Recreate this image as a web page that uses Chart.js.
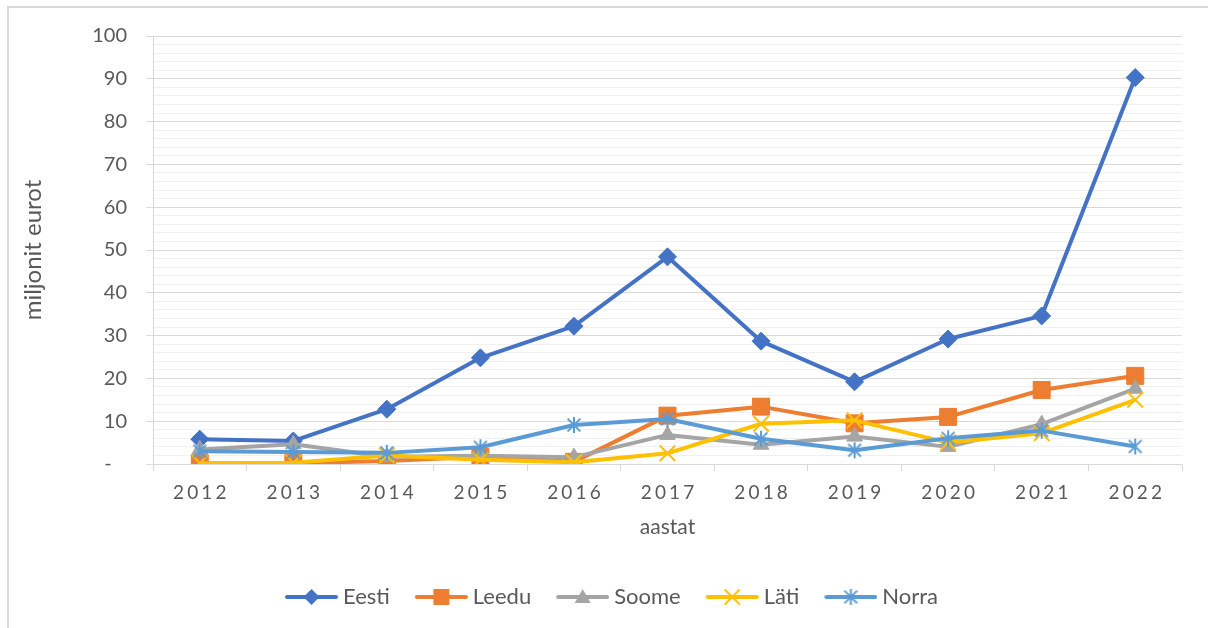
<!DOCTYPE html>
<html>
<head>
<meta charset="utf-8">
<script src="https://cdn.jsdelivr.net/npm/chart.js@4/dist/chart.umd.min.js"></script>
<style>
  body { margin: 0; background: #fff; }
  #wrap { position: relative; width: 1208px; height: 628px; }
  #frame {
    position: absolute; left: 7px; top: 6px; right: 0; bottom: 0;
    border-left: 2px solid #d9d9d9; border-top: 2px solid #d9d9d9;
    pointer-events: none;
  }
</style>
</head>
<body>
<div id="wrap">
  <canvas id="chart" width="1208" height="628"></canvas>
  <div id="frame"></div>
</div>
<script>
const years = ["2012", "2013", "2014", "2015", "2016", "2017", "2018", "2019", "2020", "2021", "2022"];
const eesti = [5.8, 5.4, 12.8, 24.8, 32.2, 48.4, 28.7, 19.2, 29.2, 34.6, 90.3];
const leedu = [0.2, 0.2, 0.7, 1.7, 0.5, 11.3, 13.4, 9.5, 11.0, 17.3, 20.6];
const soome = [3.4, 4.6, 1.7, 1.9, 1.6, 6.8, 4.5, 6.4, 4.0, 9.3, 17.6];
const lati = [0.2, 0.3, 2.0, 1.0, 0.4, 2.5, 9.4, 10.2, 5.0, 7.2, 15.0];
const norra = [3.0, 2.8, 2.6, 3.9, 9.1, 10.5, 5.9, 3.2, 6.0, 7.8, 4.1];

const TEXT = "#595959";
const GRID = "#d9d9d9";
const MINOR = "#f0f0f0";
const FONT = "Lato, 'Open Sans', sans-serif";

// excel-like asterisk marker (vertical bar + X)
function asterisk(color, size) {
  const c = document.createElement("canvas");
  c.width = size; c.height = size;
  const g = c.getContext("2d");
  const m = size / 2, r = size / 2 - 1;
  g.strokeStyle = color;
  g.lineWidth = 2;
  g.beginPath();
  g.moveTo(m, m - r); g.lineTo(m, m + r);
  g.moveTo(m - r * 0.8, m - r * 0.8); g.lineTo(m + r * 0.8, m + r * 0.8);
  g.moveTo(m + r * 0.8, m - r * 0.8); g.lineTo(m - r * 0.8, m + r * 0.8);
  g.stroke();
  return c;
}

const norraStar = asterisk("#5B9BD5", 18);

const series = [
  { label: "Eesti", data: eesti, color: "#4472C4", style: "rectRot", r: 9 },
  { label: "Leedu", data: leedu, color: "#ED7D31", style: "rect", r: 12 },
  { label: "Soome", data: soome, color: "#A5A5A5", style: "triangle", r: 9 },
  { label: "Läti", data: lati, color: "#FFC000", style: "crossRot", r: 11 },
  { label: "Norra", data: norra, color: "#5B9BD5", style: norraStar, r: 9 }
];

// legend sample: line with marker in the middle
const LEG_W = 74, LEG_H = 22, LINE_FROM = 21;
function legendSample(s) {
  const c = document.createElement("canvas");
  c.width = LEG_W; c.height = LEG_H;
  const g = c.getContext("2d");
  const y = LEG_H / 2;
  g.strokeStyle = s.color;
  g.fillStyle = s.color;
  g.lineWidth = 4;
  g.lineCap = "round";
  g.beginPath();
  g.moveTo(LINE_FROM + 2, y); g.lineTo(LEG_W - 2, y);
  g.stroke();
  const cx = (LINE_FROM + LEG_W) / 2;
  g.lineWidth = 2;
  if (s.style === "rectRot") {
    g.beginPath();
    g.moveTo(cx, y - 8); g.lineTo(cx + 8, y); g.lineTo(cx, y + 8); g.lineTo(cx - 8, y);
    g.closePath(); g.fill();
  } else if (s.style === "rect") {
    g.fillRect(cx - 8, y - 8, 16, 16);
  } else if (s.style === "triangle") {
    g.beginPath();
    g.moveTo(cx, y - 8); g.lineTo(cx + 8, y + 6); g.lineTo(cx - 8, y + 6);
    g.closePath(); g.fill();
  } else if (s.style === "crossRot") {
    g.beginPath();
    g.moveTo(cx - 7, y - 7); g.lineTo(cx + 7, y + 7);
    g.moveTo(cx + 7, y - 7); g.lineTo(cx - 7, y + 7);
    g.stroke();
  } else {
    g.drawImage(asterisk(s.color, 18), cx - 9, y - 9);
  }
  return c;
}

const datasets = series.map((s, i) => ({
  label: s.label,
  data: s.data,
  borderColor: s.color,
  backgroundColor: s.color,
  borderWidth: 4,
  borderJoinStyle: "round",
  tension: 0,
  pointStyle: s.style,
  pointRadius: s.r,
  pointBorderWidth: s.style === "crossRot" ? 2 : 1,
  pointBackgroundColor: s.color,
  pointBorderColor: s.color,
  order: series.length - i,
  legendImg: legendSample(s)
}));

const ctx = document.getElementById("chart").getContext("2d");
new Chart(ctx, {
  type: "line",
  data: { labels: years, datasets: datasets },
  options: {
    responsive: false,
    animation: false,
    layout: { padding: { left: 26, right: 26, top: 36, bottom: 10 } },
    plugins: {
      tooltip: { enabled: false },
      legend: {
        position: "bottom",
        labels: {
          usePointStyle: true,
          pointStyleWidth: 62,
          padding: 10,
          color: TEXT,
          font: { family: FONT, size: 22 },
          generateLabels: chart => chart.data.datasets.map((d, i) => ({
            text: d.label,
            fillStyle: d.borderColor,
            strokeStyle: d.borderColor,
            lineWidth: 0,
            pointStyle: d.legendImg,
            fontColor: TEXT,
            datasetIndex: i,
            hidden: false
          }))
        }
      }
    },
    scales: {
      x: {
        offset: true,
        afterFit: s => { s.height = 112; },
        grid: { offset: true, drawOnChartArea: false, color: GRID, tickLength: 7 },
        border: { color: GRID, width: 1 },
        ticks: {
          color: TEXT,
          padding: 10,
          maxRotation: 0,
          font: { family: FONT, size: 19 },
          callback: function (v) { return this.getLabelForValue(v).split("").join("\u2006"); }
        },
        title: {
          display: true,
          text: "aastat",
          color: TEXT,
          font: { family: FONT, size: 21 },
          padding: { top: 0, bottom: 36 }
        }
      },
      y: {
        min: 0,
        max: 100,
        afterFit: s => { s.width = 127; },
        grid: {
          color: c => (c.tick && c.tick.value % 10 === 0) ? GRID : MINOR,
          tickColor: c => (c.tick && c.tick.value % 10 === 0) ? GRID : "rgba(0,0,0,0)",
          tickLength: 7
        },
        border: { color: GRID, width: 1 },
        ticks: {
          stepSize: 2,
          autoSkip: false,
          color: TEXT,
          padding: 19,
          font: { family: FONT, size: 20 },
          callback: v => v % 10 !== 0 ? "" : (v === 0 ? "-   " : v)
        },
        title: {
          display: true,
          text: "miljonit eurot",
          color: TEXT,
          font: { family: FONT, size: 24 },
          padding: { top: -7, bottom: 0 }
        }
      }
    }
  }
});
</script>
</body>
</html>
